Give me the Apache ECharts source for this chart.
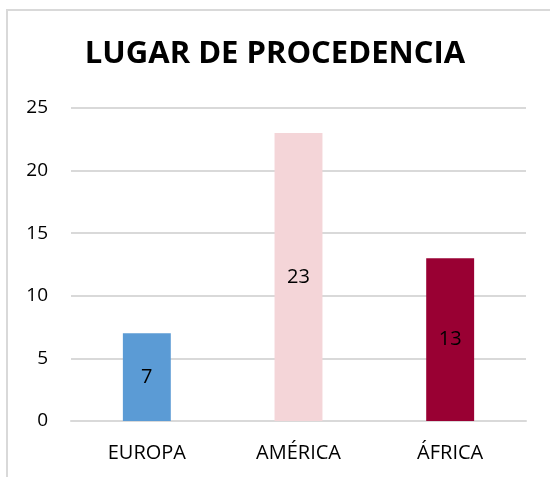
<!DOCTYPE html>
<html>
<head>
<meta charset="utf-8">
<script src="https://cdn.jsdelivr.net/npm/echarts@6/dist/echarts.min.js"></script>
<style>
  html, body { margin: 0; padding: 0; background: #fff; }
  #frame { position: absolute; left: 6px; top: 9px; width: 560px; height: 480px;
    border-top: 2px solid #d9d9d9; border-left: 2px solid #d9d9d9; }
  #chart { position: absolute; left: 0; top: 0; width: 550px; height: 477px; }
</style>
</head>
<body>
<div id="frame"></div>
<div id="chart"></div>
<script>
// datos del gráfico
const categories = ['EUROPA', 'AMÉRICA', 'ÁFRICA'];
const values = [7, 23, 13];
const barColors = ['#5b9bd5', '#f4d5d8', '#990033'];
const title = 'LUGAR DE PROCEDENCIA';

const myChart = echarts.init(document.getElementById('chart'));
myChart.setOption({
  animation: false,
  title: {
    text: title,
    left: 'center',
    padding: [5, 0, 5, 12],
    top: 34,
    textStyle: {
      fontFamily: 'Open Sans',
      fontWeight: 'bold',
      fontSize: 31,
      color: '#000'
    }
  },
  grid: { left: 71, right: 24, top: 108, bottom: 56 },
  xAxis: {
    type: 'category',
    data: categories,
    axisLine: { lineStyle: { color: '#d9d9d9', width: 2 } },
    axisTick: { show: false },
    axisLabel: { color: '#000', fontSize: 20, fontFamily: 'Open Sans', margin: 22 }
  },
  yAxis: {
    type: 'value',
    min: 0,
    max: 25,
    interval: 5,
    axisLine: { show: false },
    axisTick: { show: false },
    axisLabel: { color: '#000', fontSize: 19, fontFamily: 'Open Sans', margin: 23 },
    splitLine: { lineStyle: { color: '#d9d9d9', width: 2 } }
  },
  series: [{
    type: 'bar',
    barWidth: '31.6%',
    data: values.map((v, i) => ({ value: v, itemStyle: { color: barColors[i] } })),
    label: {
      show: true,
      position: 'inside',
      color: '#000',
      fontSize: 20,
      fontFamily: 'Open Sans'
    }
  }]
});
</script>
</body>
</html>
